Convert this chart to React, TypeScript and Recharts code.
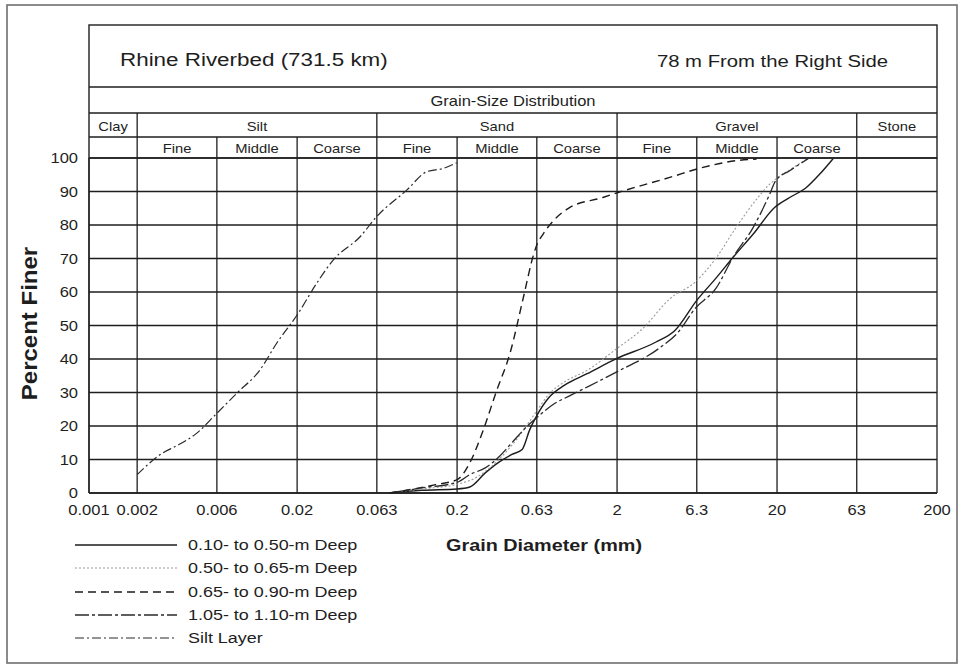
import React from "react";
import { LineChart, Line, XAxis, YAxis, CartesianGrid, Customized } from "recharts";

// Grain-size distribution of Rhine riverbed samples (log-scaled grain diameter, mm)
type Pt = { d: number; p: number };
const pts = (rows: number[][]): Pt[] => rows.map(([d, p]) => ({ d, p }));

// Half-decade sieve series; 0.0063 mm is printed as "0.006"
const DIAMETER_TICKS = [0.001, 0.002, 0.0063, 0.02, 0.063, 0.2, 0.63, 2, 6.3, 20, 63, 200];
const DIAMETER_LABELS = ["0.001", "0.002", "0.006", "0.02", "0.063", "0.2", "0.63", "2", "6.3", "20", "63", "200"];
const PERCENT_TICKS = [0, 10, 20, 30, 40, 50, 60, 70, 80, 90, 100];

const depth010to050 = pts([
  [0.075, 0], [0.12, 0.8], [0.2, 1.2], [0.24, 1.8], [0.3, 6], [0.36, 9], [0.44, 11.5],
  [0.51, 13], [0.57, 19], [0.62, 22.5], [0.75, 28.5], [0.94, 32.2], [1.3, 35.6],
  [1.98, 40.1], [3.48, 45], [4.6, 48.5], [6.3, 57.5], [8.36, 64.3], [10.6, 70.3],
  [14.2, 77.3], [19.3, 85.2], [24, 88.2], [30.5, 91.2], [37, 95.2], [44.8, 99.8],
]);

const depth050to065 = pts([
  [0.075, 0], [0.12, 1.2], [0.2, 2.6], [0.26, 4.5], [0.32, 7.5], [0.4, 12], [0.48, 16.5],
  [0.56, 21], [0.63, 24.5], [0.75, 29.5], [0.94, 33.2], [1.3, 36.6], [1.98, 43],
  [2.88, 49], [4.28, 58], [6.27, 63.3], [8.36, 70.3], [11.1, 79.3], [14.9, 87.7],
  [18, 92.2], [20, 94], [25, 97], [31, 99.8],
]);

const depth065to090 = pts([
  [0.076, 0], [0.147, 2.5], [0.2, 4], [0.24, 9], [0.29, 18.5], [0.35, 30], [0.43, 42],
  [0.52, 58.5], [0.6, 71], [0.63, 74], [0.69, 77.3], [0.84, 82.3], [1.01, 85.2],
  [1.63, 88.2], [2.03, 89.7], [4.27, 94.2], [6.9, 97.2], [11.1, 99.2], [14.9, 99.7],
]);

const depth105to110 = pts([
  [0.075, 0], [0.12, 1.5], [0.2, 3.2], [0.24, 5.5], [0.3, 7.5], [0.36, 10.5], [0.44, 15],
  [0.55, 20], [0.63, 22.5], [0.8, 26.5], [1.03, 29.2], [1.98, 36.1], [3.64, 43.1],
  [4.82, 48], [6.1, 54.9], [8.36, 61.3], [10.6, 70.3], [14.2, 79.3], [18, 89.2],
  [19.6, 93.2], [24, 96.2], [31.3, 99.8],
]);

const siltLayer = pts([
  [0.002, 5.5], [0.0029, 12], [0.0035, 14], [0.0047, 17.8], [0.0063, 23.8], [0.0084, 29.8],
  [0.0117, 36.7], [0.0149, 44.7], [0.0203, 53.6], [0.0265, 62.6], [0.0337, 69.6],
  [0.0495, 76.5], [0.0628, 82.5], [0.0968, 90.4], [0.129, 95.9], [0.164, 96.9], [0.199, 98.6],
]);

const SERIES = [
  { name: "0.10- to 0.50-m Deep", data: depth010to050, stroke: "#1c1c1c", width: 1.4, dash: undefined },
  { name: "0.50- to 0.65-m Deep", data: depth050to065, stroke: "#9a9a9a", width: 1.1, dash: "2 2" },
  { name: "0.65- to 0.90-m Deep", data: depth065to090, stroke: "#1c1c1c", width: 1.4, dash: "8 5" },
  { name: "1.05- to 1.10-m Deep", data: depth105to110, stroke: "#2a2a2a", width: 1.3, dash: "14 3 3 3" },
  { name: "Silt Layer", data: siltLayer, stroke: "#2a2a2a", width: 1.2, dash: "9 3 2 3" },
];

// Header classification bands
const MAIN_CLASSES = [
  { label: "Clay", from: 0.001, to: 0.002 },
  { label: "Silt", from: 0.002, to: 0.063 },
  { label: "Sand", from: 0.063, to: 2 },
  { label: "Gravel", from: 2, to: 63 },
  { label: "Stone", from: 63, to: 200 },
];
const SUB_CLASSES = [
  { label: "Fine", from: 0.002, to: 0.0063 },
  { label: "Middle", from: 0.0063, to: 0.02 },
  { label: "Coarse", from: 0.02, to: 0.063 },
  { label: "Fine", from: 0.063, to: 0.2 },
  { label: "Middle", from: 0.2, to: 0.63 },
  { label: "Coarse", from: 0.63, to: 2 },
  { label: "Fine", from: 2, to: 6.3 },
  { label: "Middle", from: 6.3, to: 20 },
  { label: "Coarse", from: 20, to: 63 },
];

const W = 964;
const H = 668;
const PLOT_L = 89;
const PLOT_R = 937;
const PLOT_T = 158;
const PLOT_B = 493;
const DOMAIN: [number, number] = [0.001, 200];
const FONT = "'Liberation Sans', Arial, Helvetica, sans-serif";
const SX = 1.18;
const INK = "#1e1e1e";

const xPix = (v: number) =>
  PLOT_L +
  ((PLOT_R - PLOT_L) * (Math.log10(v) - Math.log10(DOMAIN[0]))) /
    (Math.log10(DOMAIN[1]) - Math.log10(DOMAIN[0]));

function T(props: {
  x: number; y: number; size: number; anchor?: "start" | "middle" | "end";
  weight?: string | number; children: React.ReactNode; fill?: string;
}) {
  const { x, y, size, anchor = "start", weight = "normal", children, fill = INK } = props;
  return (
    <text
      transform={`translate(${x} ${y}) scale(${SX} 1)`}
      fontFamily={FONT}
      fontSize={size}
      textAnchor={anchor}
      fontWeight={weight}
      fill={fill}
    >
      {children}
    </text>
  );
}

function XTick(p: any) {
  const i = DIAMETER_TICKS.indexOf(p.payload.value);
  return (
    <T x={p.x} y={PLOT_B + 22} size={14} anchor="middle">
      {i >= 0 ? DIAMETER_LABELS[i] : String(p.payload.value)}
    </T>
  );
}

function YTick(p: any) {
  return (
    <T x={PLOT_L - 11} y={p.y + 5} size={14} anchor="end">
      {String(p.payload.value)}
    </T>
  );
}

function Decorations() {
  const rowTitleB = 87;
  const rowDistB = 113;
  const rowClassB = 137;
  const line = (x1: number, y1: number, x2: number, y2: number, key: string, w = 1.3) => (
    <line key={key} x1={x1} y1={y1} x2={x2} y2={y2} stroke={INK} strokeWidth={w} />
  );
  const legendY = [545, 568, 592, 615, 638];
  return (
    <g>
      {/* outer frame */}
      <rect x={7} y={5} width={950} height={658} fill="none" stroke="#6e6e6e" strokeWidth={1.6} />
      {/* header table */}
      <rect x={PLOT_L} y={25} width={PLOT_R - PLOT_L} height={PLOT_T - 25} fill="none" stroke={INK} strokeWidth={1.4} />
      {line(PLOT_L, rowTitleB, PLOT_R, rowTitleB, "h1")}
      {line(PLOT_L, rowDistB, PLOT_R, rowDistB, "h2")}
      {line(PLOT_L, rowClassB, PLOT_R, rowClassB, "h3")}
      {MAIN_CLASSES.slice(1).map((c, i) => line(xPix(c.from), rowDistB, xPix(c.from), rowClassB, `mv${i}`))}
      {SUB_CLASSES.map((c, i) => line(xPix(c.from), rowClassB, xPix(c.from), PLOT_T, `sv${i}`))}
      {line(xPix(63), rowClassB, xPix(63), PLOT_T, "sv-stone")}
      <T x={120} y={66} size={19}>Rhine Riverbed (731.5 km)</T>
      <T x={888} y={67} size={17.2} anchor="end">78 m From the Right Side</T>
      <T x={(PLOT_L + PLOT_R) / 2} y={106} size={14} anchor="middle">Grain-Size Distribution</T>
      {MAIN_CLASSES.map((c, i) => (
        <T key={`mc${i}`} x={(xPix(c.from) + xPix(c.to)) / 2} y={131} size={12.5} anchor="middle">
          {c.label}
        </T>
      ))}
      {SUB_CLASSES.map((c, i) => (
        <T key={`sc${i}`} x={(xPix(c.from) + xPix(c.to)) / 2} y={153} size={12.5} anchor="middle">
          {c.label}
        </T>
      ))}
      {/* axis titles */}
      <text
        transform={`translate(37 ${(PLOT_T + PLOT_B) / 2 - 2}) rotate(-90) scale(1.2 1.1)`}
        fontFamily={FONT}
        fontSize={20}
        fontWeight="bold"
        textAnchor="middle"
        fill={INK}
      >
        Percent Finer
      </text>
      <T x={544} y={551} size={16.8} anchor="middle" weight="bold">Grain Diameter (mm)</T>
      {/* legend */}
      {SERIES.map((s, i) => (
        <g key={`lg${i}`}>
          <line
            x1={75} y1={legendY[i]} x2={177} y2={legendY[i]}
            stroke={s.stroke} strokeWidth={s.width} strokeDasharray={s.dash}
          />
          <T x={188} y={legendY[i] + 5} size={15.2}>{s.name}</T>
        </g>
      ))}
    </g>
  );
}

export default function App() {
  return (
    <div style={{ position: "absolute", left: 0, top: 0, width: W, height: H, background: "#ffffff" }}>
      <LineChart
        width={W}
        height={H}
        margin={{ top: PLOT_T, right: W - PLOT_R, bottom: H - PLOT_B - 30, left: PLOT_L - 60 }}
      >
        <CartesianGrid stroke={INK} strokeWidth={1.3} horizontalValues={PERCENT_TICKS} verticalValues={DIAMETER_TICKS} />
        <XAxis
          dataKey="d"
          type="number"
          scale="log"
          domain={DOMAIN}
          ticks={DIAMETER_TICKS}
          allowDataOverflow
          height={30}
          tickLine={false}
          axisLine={{ stroke: INK, strokeWidth: 1.3 }}
          tick={XTick}
          interval={0}
        />
        <YAxis
          type="number"
          domain={[0, 100]}
          ticks={PERCENT_TICKS}
          width={60}
          tickLine={false}
          axisLine={{ stroke: INK, strokeWidth: 1.3 }}
          tick={YTick}
          interval={0}
        />
        {SERIES.map((s) => (
          <Line
            key={s.name}
            data={s.data}
            dataKey="p"
            name={s.name}
            type="monotone"
            stroke={s.stroke}
            strokeWidth={s.width}
            strokeDasharray={s.dash}
            dot={false}
            activeDot={false}
            isAnimationActive={false}
          />
        ))}
        <Customized component={Decorations} />
      </LineChart>
    </div>
  );
}
